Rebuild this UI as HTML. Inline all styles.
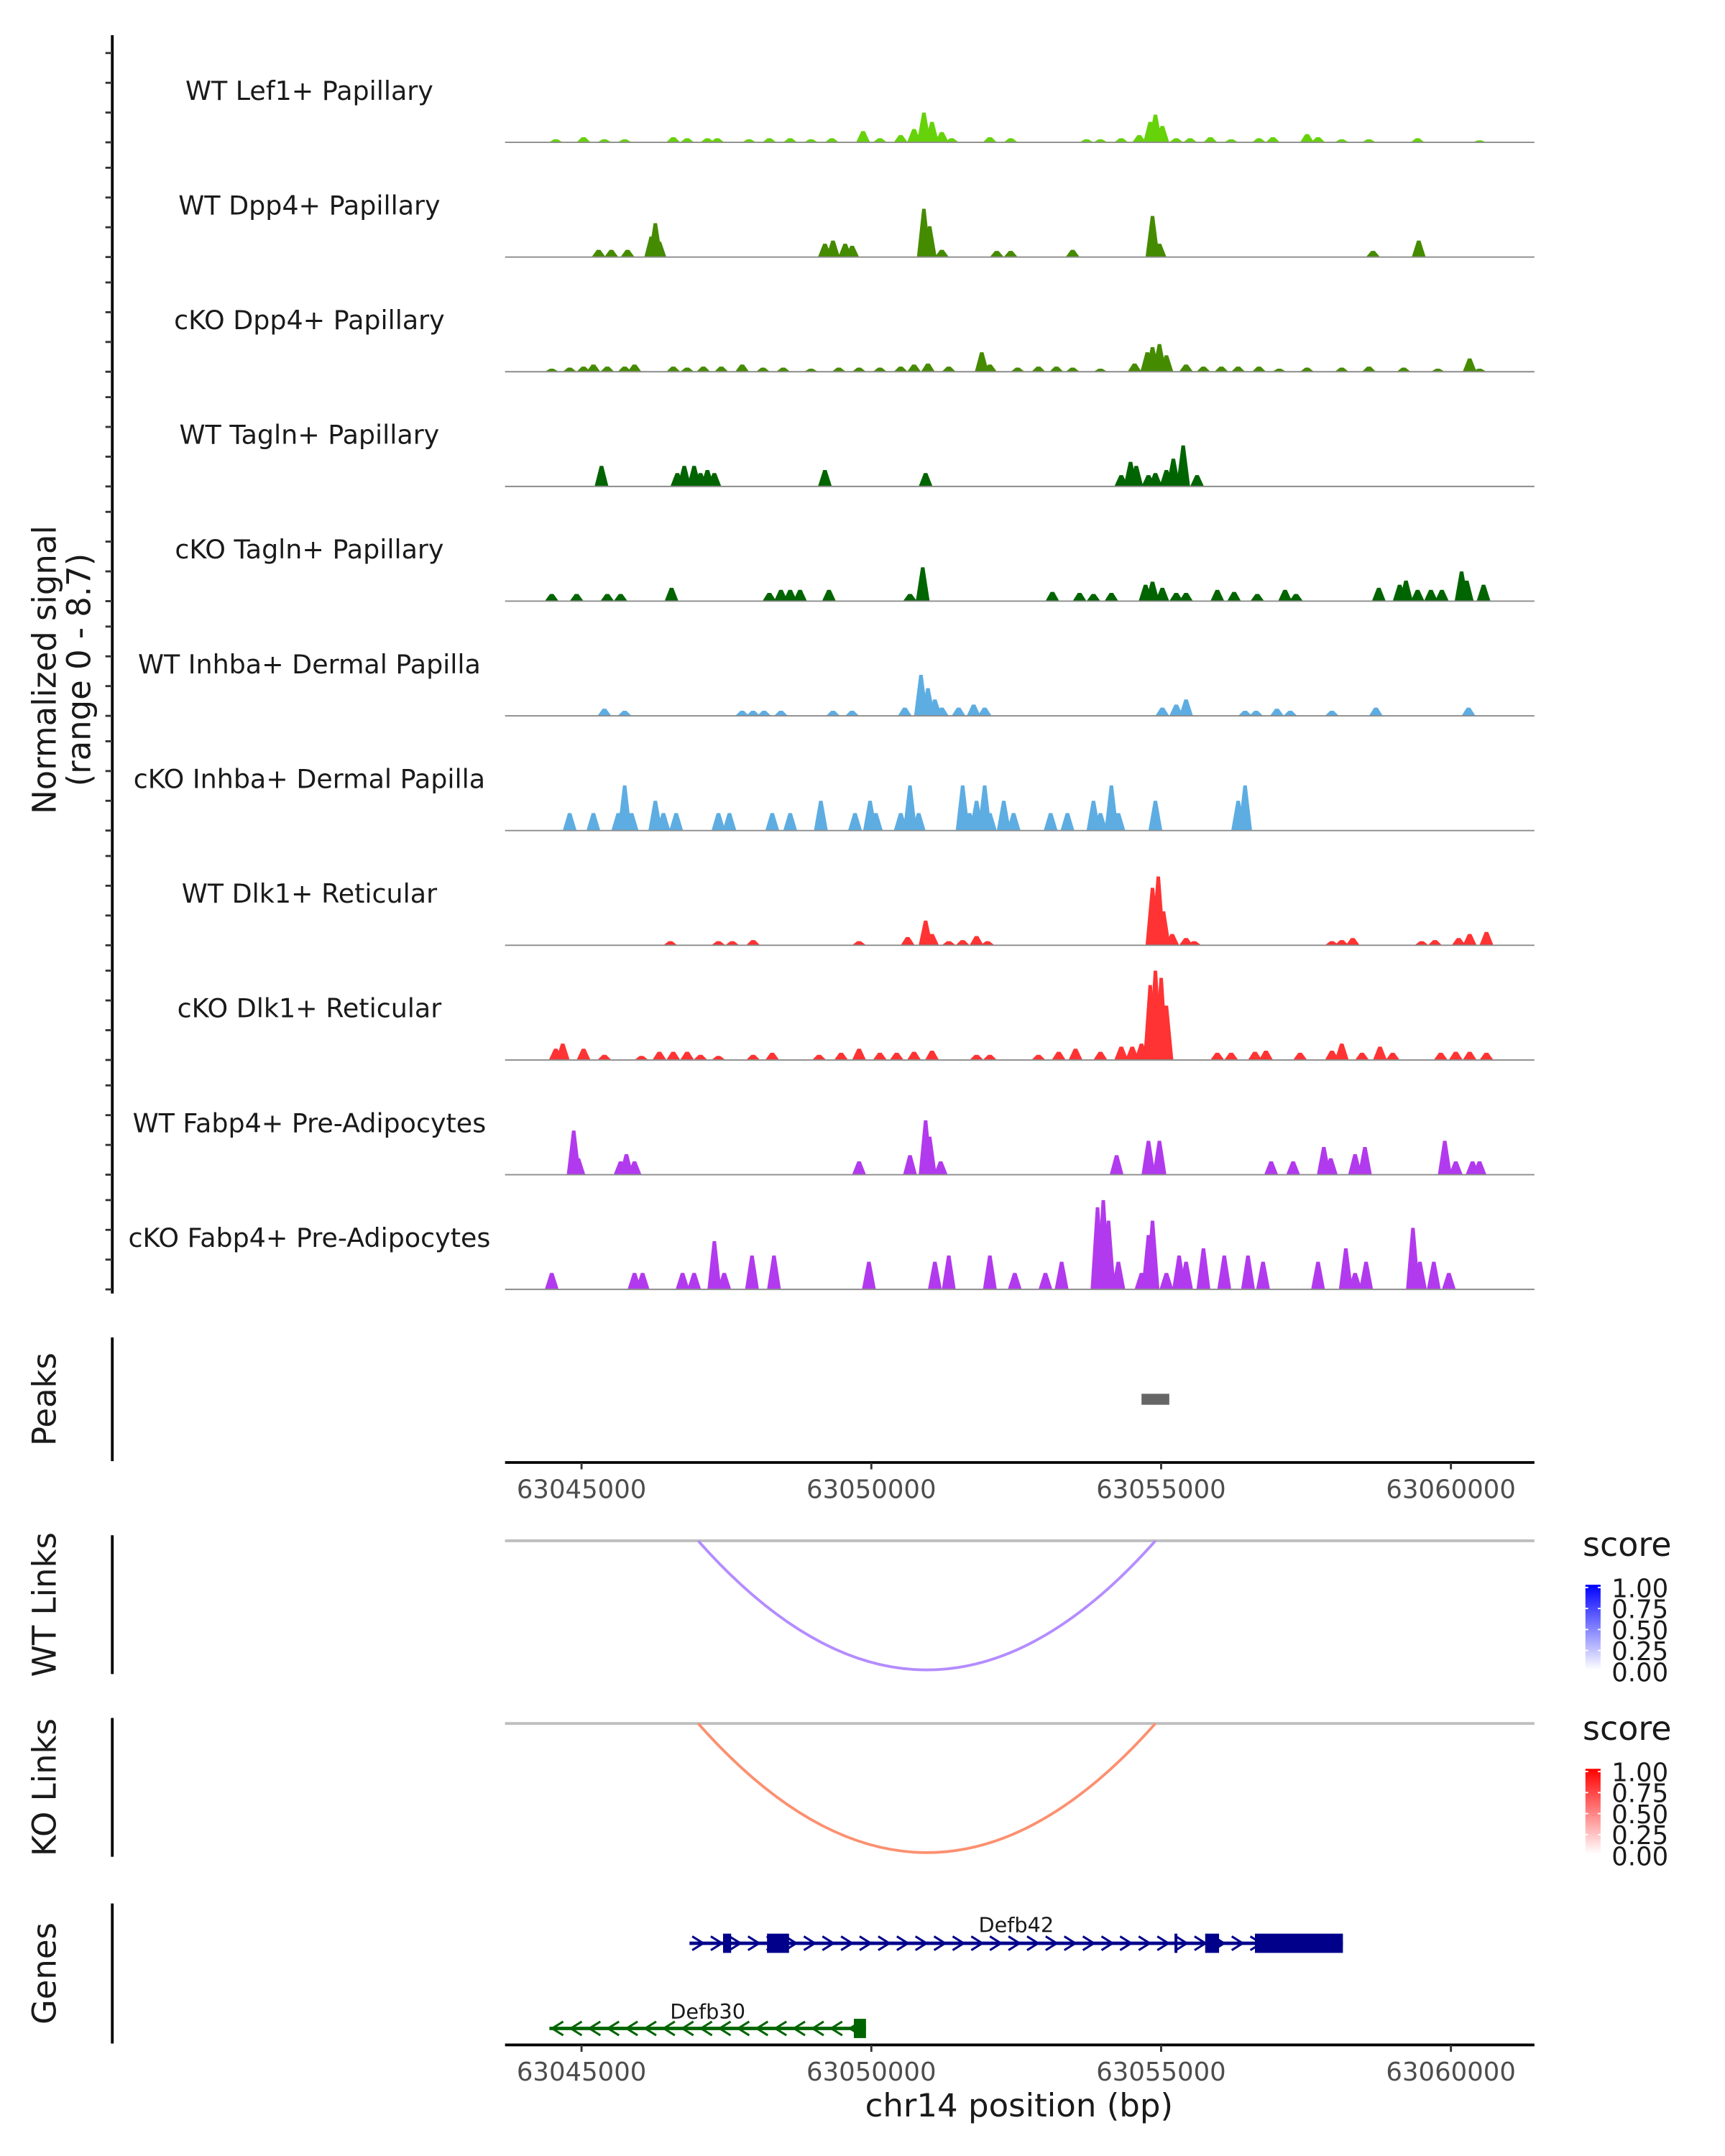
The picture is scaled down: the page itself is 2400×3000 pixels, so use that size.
<!DOCTYPE html>
<html><head><meta charset="utf-8"><style>
html,body{margin:0;padding:0;background:#fff}
svg{display:block}
text{font-family:"DejaVu Sans","Liberation Sans",sans-serif;fill:#1a1a1a}
</style></head><body>
<svg id="chart" width="2400" height="3000" viewBox="0 0 1240 1550" preserveAspectRatio="none" xmlns="http://www.w3.org/2000/svg">
<g id="g" transform="translate(-1.5,0.6) scale(0.9906,0.9876)"></g>
</svg>
<script>
// genomic positions in kb offset from 63,000,000; signal in normalized units (0-8.7)
const trackNames = ["WT Lef1+ Papillary","WT Dpp4+ Papillary","cKO Dpp4+ Papillary","WT Tagln+ Papillary","cKO Tagln+ Papillary","WT Inhba+ Dermal Papilla","cKO Inhba+ Dermal Papilla","WT Dlk1+ Reticular","cKO Dlk1+ Reticular","WT Fabp4+ Pre-Adipocytes","cKO Fabp4+ Pre-Adipocytes"];
const trackColors = ["#66d20a","#458b00","#458b00","#006400","#006400","#5dade2","#5dade2","#ff3333","#ff3333","#b23aee","#b23aee"];
const pos0 = [44.21,44.69,45.05,45.4,46.24,46.48,46.83,47.0,47.55,47.9,48.26,48.62,48.98,49.52,49.81,50.17,50.4,50.57,50.71,50.88,51.05,51.71,52.07,53.38,53.62,53.98,54.29,54.48,54.57,54.69,54.93,55.17,55.52,55.88,56.36,56.6,57.19,57.38,57.79,58.26,59.1,60.17];
const sig0 = [.3,.5,.3,.3,.5,.4,.4,.4,.3,.4,.4,.3,.4,1.1,.4,.7,1.3,2.9,2.0,1.0,.4,.5,.4,.3,.3,.4,.7,2.0,2.7,1.6,.4,.4,.5,.3,.4,.5,.8,.5,.3,.3,.4,.2];
const pos1 = [44.95,45.17,45.45,45.86,45.93,46.0,48.86,49.0,49.21,49.33,50.57,50.67,50.88,51.83,52.07,53.14,54.52,54.64,58.33,59.12];
const sig1 = [.7,.7,.7,2.0,3.3,1.5,1.3,1.6,1.3,1.1,4.7,3.0,.7,.6,.6,.7,4.0,1.3,.6,1.6];
const pos2 = [44.14,44.45,44.69,44.86,45.1,45.4,45.57,46.24,46.48,46.76,47.07,47.43,47.79,48.14,48.62,49.1,49.45,49.81,50.17,50.4,50.64,51.0,51.57,51.71,52.19,52.55,52.86,53.14,53.62,54.21,54.43,54.52,54.64,54.76,55.1,55.4,55.71,56.0,56.36,56.71,57.19,57.79,58.26,58.86,59.45,60.0,60.17];
const sig2 = [.3,.4,.5,.7,.5,.5,.7,.5,.4,.5,.5,.7,.4,.4,.3,.4,.4,.4,.5,.7,.8,.5,1.9,.7,.4,.5,.5,.4,.3,.8,1.9,2.4,2.7,1.6,.7,.5,.5,.5,.5,.3,.4,.4,.5,.4,.3,1.3,.3];
const pos3 = [45.0,46.31,46.43,46.6,46.71,46.83,46.95,48.86,50.6,53.98,54.14,54.24,54.45,54.57,54.76,54.88,55.05,55.29];
const sig3 = [2.0,1.3,2.0,2.0,1.3,1.6,1.3,1.6,1.3,1.1,2.4,2.0,1.1,1.3,1.6,2.7,4.0,1.1];
const pos4 = [44.14,44.57,45.1,45.33,46.21,47.9,48.1,48.26,48.43,48.93,50.33,50.55,52.79,53.26,53.5,53.81,54.4,54.52,54.69,54.93,55.1,55.64,55.93,56.33,56.81,57.0,58.43,58.79,58.9,59.1,59.33,59.52,59.86,59.95,60.24];
const sig4 = [.7,.7,.7,.7,1.3,.8,1.1,1.1,1.1,1.1,.7,3.3,.9,.8,.7,.8,1.6,1.9,1.3,.8,.8,1.1,.9,.7,1.1,.7,1.3,1.6,2.0,1.1,1.1,1.1,2.9,2.0,1.6];
const pos5 = [45.05,45.4,47.43,47.62,47.81,48.1,49.0,49.33,50.24,50.52,50.64,50.76,50.88,51.17,51.43,51.62,54.69,54.93,55.1,56.12,56.31,56.67,56.9,57.62,58.38,59.98];
const sig5 = [.7,.5,.5,.5,.5,.5,.5,.5,.8,4.0,2.7,1.6,.8,.8,1.1,.8,.8,1.1,1.6,.5,.5,.7,.5,.5,.8,.8];
const pos6 = [44.45,44.86,45.29,45.4,45.52,45.93,46.07,46.29,47.02,47.21,47.95,48.26,48.79,49.38,49.64,49.74,50.17,50.33,50.48,51.24,51.36,51.48,51.62,51.71,51.95,52.12,52.76,53.05,53.5,53.62,53.81,53.93,54.57,56.0,56.12];
const sig6 = [1.7,1.7,1.7,4.4,1.7,2.9,1.7,1.7,1.7,1.7,1.7,1.7,2.9,1.7,2.9,1.7,1.7,4.4,1.7,4.4,1.7,2.9,4.4,1.7,2.9,1.7,1.7,1.7,2.9,1.7,4.4,1.7,2.9,2.9,4.4];
const pos7 = [46.19,47.02,47.26,47.62,49.45,50.29,50.6,50.71,51.0,51.24,51.48,51.67,54.52,54.62,54.71,54.86,55.1,55.24,57.62,57.79,57.98,59.17,59.4,59.81,60.0,60.29];
const sig7 = [.4,.4,.4,.5,.4,.8,2.4,1.1,.4,.5,.9,.4,5.6,6.7,3.3,1.1,.7,.4,.4,.5,.7,.4,.5,.7,1.1,1.3];
const pos8 = [44.21,44.33,44.69,45.05,45.69,46.0,46.24,46.48,46.71,47.02,47.62,47.95,48.76,49.14,49.45,49.81,50.1,50.4,50.71,51.48,51.71,52.55,52.9,53.19,53.62,53.98,54.17,54.33,54.48,54.57,54.67,54.76,55.64,55.88,56.29,56.48,57.07,57.62,57.79,58.14,58.45,58.67,59.5,59.76,60.0,60.29];
const sig8 = [1.1,1.6,1.1,.5,.4,.8,.8,.8,.5,.4,.5,.7,.5,.7,1.1,.7,.7,.8,.9,.5,.5,.5,.8,1.1,.8,1.3,1.3,1.6,7.3,8.7,8.0,5.3,.7,.7,.8,.9,.7,.9,1.6,.7,1.3,.7,.7,.8,.8,.7];
const pos9 = [44.52,44.6,45.33,45.43,45.57,49.45,50.33,50.6,50.67,50.86,53.9,54.45,54.64,56.57,56.95,57.48,57.6,58.02,58.19,59.57,59.76,60.05,60.17];
const sig9 = [4.3,1.6,1.3,2.0,1.3,1.3,1.9,5.3,3.7,1.3,1.9,3.3,3.3,1.3,1.3,2.7,1.6,2.0,2.7,3.3,1.3,1.3,1.3];
const pos10 = [44.14,45.57,45.71,46.4,46.6,46.95,47.12,47.6,47.98,49.62,50.76,51.0,51.71,52.14,52.67,52.95,53.57,53.67,53.76,53.93,54.33,54.45,54.52,54.76,54.98,55.1,55.4,55.76,56.17,56.43,57.38,57.86,58.02,58.21,59.02,59.14,59.38,59.64];
const sig10 = [1.6,1.6,1.6,1.6,1.6,4.7,1.6,3.3,3.3,2.7,2.7,3.3,3.3,1.6,1.6,2.7,8.0,8.7,6.7,2.7,1.6,5.3,6.7,1.6,3.3,2.7,4.0,3.3,3.3,2.7,2.7,4.0,1.6,2.7,6.0,2.7,2.7,1.6];
const trackPos = [pos0,pos1,pos2,pos3,pos4,pos5,pos6,pos7,pos8,pos9,pos10];
const trackSig = [sig0,sig1,sig2,sig3,sig4,sig5,sig6,sig7,sig8,sig9,sig10];
const axisTicks = [44.655,49.662,54.669,59.676];
const axisTickLabels = ["63045000","63050000","63055000","63060000"];
const peakRegions = [[54.33,54.81]];
const linkStart = [46.67];
const linkEnd = [54.57];
const wtScore = [0.35];
const koScore = [0.45];
const legendTicks = ["1.00","0.75","0.50","0.25","0.00"];
const geneNames = ["Defb42","Defb30"];
const geneStart = [46.52,44.1];
const geneEnd = [57.81,49.57];
const geneStrand = [1,-1];
const geneExons = [[[47.1,47.24],[47.86,48.24],[54.9,54.95],[55.43,55.67],[56.29,57.81]],[[49.36,49.57]]];

const NS="http://www.w3.org/2000/svg";
const g=document.getElementById('g');
const X0=368,X1=1115;
const sx=kb=>438+(kb-45)*42;
const YMAX=8.7,TH=65;
function el(tag,attrs,parent){const e=document.createElementNS(NS,tag);for(const k in attrs)e.setAttribute(k,attrs[k]);(parent||g).appendChild(e);return e;}
function txt(s,x,y,size,extra){const t=el('text',Object.assign({x:x,y:y,'font-size':size,'text-anchor':'middle'},extra||{}));t.textContent=s;return t;}

const ax=el('line',{x1:83,y1:25,x2:83,y2:941,stroke:'#000','stroke-width':2});


const base0=103, step=83.5;
for(let i=0;i<trackNames.length;i++){
  const b=base0+i*step;
  const tg=el('g',{});
  
  
  for(let k=0;k<4;k++){const y=b-k*TH/3;el('line',{x1:78,y1:y,x2:83,y2:y,stroke:'#333','stroke-width':1.5},tg);}
  const lab=txt(trackNames[i],226,b-31,19,{});
  
  
  tg.appendChild(lab);
  const P=trackPos[i],S=trackSig[i];
  const w=0.24;
  for(let j=0;j<P.length;j++){
    const h=S[j]/YMAX*TH;
    const xl=sx(P[j]-w/2),xr=sx(P[j]+w/2),xm1=sx(P[j]-w/8),xm2=sx(P[j]+w/8);
    const p=el('polygon',{points:`${xl},${b} ${xm1},${b-h} ${xm2},${b-h} ${xr},${b}`,fill:trackColors[i]},tg);
    
    
  }
  el('line',{x1:X0,y1:b,x2:X1,y2:b,stroke:'#8c8c8c','stroke-width':1},tg);
}
const yt=txt('Normalized signal',0,0,23.5,{transform:'translate(42,487) rotate(-90)'});


const yt2=txt('(range 0 - 8.7)',0,0,23.5,{transform:'translate(67,487) rotate(-90)'});



function panelTitle(s,y0,y1,name){
  el('line',{x1:83,y1:y0,x2:83,y2:y1,stroke:'#000','stroke-width':2});
  const t=txt(s,0,0,23.5,{transform:`translate(42,${(y0+y1)/2}) rotate(-90)`});
  
  
}
function xAxis(y,name){
  const a=el('g',{});
  
  
  el('line',{x1:X0,y1:y,x2:X1,y2:y,stroke:'#000','stroke-width':2},a);
  for(let i=0;i<axisTicks.length;i++){const x=sx(axisTicks[i]);el('line',{x1:x,y1:y,x2:x,y2:y+5,stroke:'#333','stroke-width':1.5},a);
    const t=txt(axisTickLabels[i],x,y+26,18.5,{style:'fill:#4d4d4d'});a.appendChild(t);}
}
panelTitle('Peaks',973,1063,'peaks-title');
for(let i=0;i<peakRegions.length;i++){const r=el('rect',{x:sx(peakRegions[i][0]),y:1014,width:sx(peakRegions[i][1])-sx(peakRegions[i][0]),height:8,fill:'#666'});
  
  }
xAxis(1064,'peaks-x-axis');

function links(y0,title,name,scores,col,grad,gy){
  panelTitle(title,y0-4,y0+97,name+'-title');
  el('line',{x1:X0,y1:y0,x2:X1,y2:y0,stroke:'#bebebe','stroke-width':2});
  for(let i=0;i<linkStart.length;i++){
    const a=sx(linkStart[i]),b=sx(linkEnd[i]),d=94;
    const p=el('path',{d:`M${a},${y0} Q${(a+b)/2},${y0+2*d} ${b},${y0}`,fill:'none',stroke:col,'stroke-width':2});
    
    
  }
  const lg=el('g',{});
  
  
  const st=txt('score',1150,gy-21,24,{'text-anchor':'start'});lg.appendChild(st);
  const defs=el('defs',{},lg);const lgr=el('linearGradient',{id:grad,x1:0,y1:1,x2:0,y2:0},defs);
  el('stop',{offset:0,'stop-color':'#ffffff'},lgr);el('stop',{offset:1,'stop-color':grad=='gb'?'#0000ff':'#ff0000'},lgr);
  el('rect',{x:1152,y:gy,width:11,height:62,fill:`url(#${grad})`},lg);
  for(let i=0;i<legendTicks.length;i++){const y=gy+2+i*15.3;
    el('line',{x1:1152,y1:y,x2:1154,y2:y,stroke:'#fff'},lg);el('line',{x1:1161,y1:y,x2:1163,y2:y,stroke:'#fff'},lg);
    const t=txt(legendTicks[i],1171,y+7,18.5,{'text-anchor':'start'});lg.appendChild(t);}
}
links(1121,'WT Links','wt-links',wtScore,'#b48cff','gb',1153);
links(1254,'KO Links','ko-links',koScore,'#fc9070','gr',1287);

panelTitle('Genes',1385,1487,'genes-title');
const gys=[1414,1476],gcol=['#00008b','#006400'],lys=[1407,1470];
for(let i=0;i<geneNames.length;i++){
  const gg=el('g',{});
  
  
  const y=gys[i],c=gcol[i],a=sx(geneStart[i]),b=sx(geneEnd[i]);
  el('line',{x1:a,y1:y,x2:b,y2:y,stroke:c,'stroke-width':2.5},gg);
  for(let x=a+6;x<b-4;x+=13.5){const dx=geneStrand[i]*4;
    el('polyline',{points:`${x-dx},${y-5} ${x+dx},${y} ${x-dx},${y+5}`,fill:'none',stroke:c,'stroke-width':1.6},gg);}
  for(const e of geneExons[i]){el('rect',{x:sx(e[0]),y:y-7,width:Math.max(2,sx(e[1])-sx(e[0])),height:14,fill:c},gg);}
  const t=txt(geneNames[i],(a+b)/2,lys[i]-1,15,{});gg.appendChild(t);
}
xAxis(1488,'genes-x-axis');
const xt=txt('chr14 position (bp)',741,1540,23.5,{});


</script>
</body></html>
